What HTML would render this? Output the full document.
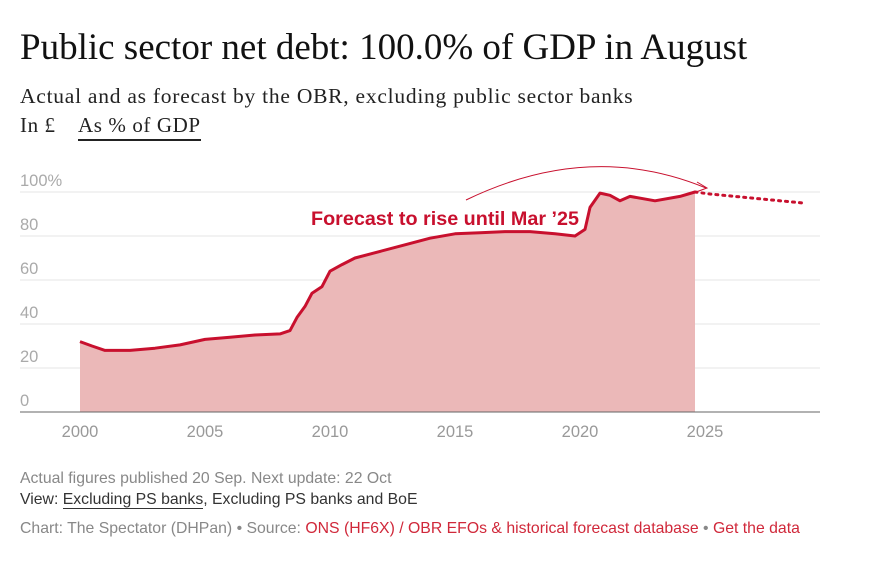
<!DOCTYPE html>
<html><head><meta charset="utf-8"><style>
body{margin:0;background:#fff;width:876px;height:562px;overflow:hidden;font-family:"Liberation Sans",sans-serif}
.t{position:absolute;left:20px;top:26px;font-family:"Liberation Serif",serif;font-size:37px;color:#111;white-space:nowrap}
.s{position:absolute;left:20px;top:84px;font-family:"Liberation Serif",serif;font-size:21.5px;color:#222;white-space:nowrap;letter-spacing:0.75px}
.tab{position:absolute;top:113px;font-family:"Liberation Serif",serif;font-size:21px;color:#222;white-space:nowrap;letter-spacing:0.6px}
.f{position:absolute;left:20px;font-size:15.8px;color:#888;white-space:nowrap}
.r{color:#d0283a}
</style></head><body>
<div class="t">Public sector net debt: 100.0% of GDP in August</div>
<div class="s">Actual and as forecast by the OBR, excluding public sector banks</div>
<div class="tab" style="left:20px">In £</div>
<div class="tab" style="left:78px;border-bottom:2px solid #222;padding-bottom:1px">As % of GDP</div>
<svg width="876" height="562" style="position:absolute;left:0;top:0">
<g stroke="#e4e4e4" stroke-width="1">
<line x1="20" x2="820" y1="192" y2="192"/><line x1="20" x2="820" y1="236" y2="236"/>
<line x1="20" x2="820" y1="280" y2="280"/><line x1="20" x2="820" y1="324" y2="324"/>
<line x1="20" x2="820" y1="368" y2="368"/></g>
<g font-size="16.5" fill="#aaa" font-family="Liberation Sans,sans-serif">
<text x="20" y="186">100%</text><text x="20" y="230">80</text><text x="20" y="274">60</text>
<text x="20" y="318">40</text><text x="20" y="362">20</text><text x="20" y="406">0</text></g>
<g font-size="16.5" fill="#999" text-anchor="middle" font-family="Liberation Sans,sans-serif">
<text x="80" y="437">2000</text><text x="205" y="437">2005</text><text x="330" y="437">2010</text>
<text x="455" y="437">2015</text><text x="580" y="437">2020</text><text x="705" y="437">2025</text></g>
<polygon fill="#ebb8b8" points="80,341.6 92,346 105,350.4 130,350.4 155,348.2 180,344.9 205,339.4 230,337.2 255,335 280,333.9 290,330.6 297,317.4 305,306.4 312,293.2 322,286.6 330,271.2 342,264.6 355,258 380,251.4 405,244.8 430,238.2 455,233.8 480,232.7 505,231.6 530,231.6 555,233.8 575,236 585,229.4 590,207.4 600,193.1 610,195.3 620,200.8 630,196.4 655,200.8 680,196.4 695,192 695,412 80,412"/>
<polyline fill="none" stroke="#c8102e" stroke-width="3" stroke-linejoin="round" points="80,341.6 92,346 105,350.4 130,350.4 155,348.2 180,344.9 205,339.4 230,337.2 255,335 280,333.9 290,330.6 297,317.4 305,306.4 312,293.2 322,286.6 330,271.2 342,264.6 355,258 380,251.4 405,244.8 430,238.2 455,233.8 480,232.7 505,231.6 530,231.6 555,233.8 575,236 585,229.4 590,207.4 600,193.1 610,195.3 620,200.8 630,196.4 655,200.8 680,196.4 695,192"/>
<polyline fill="none" stroke="#c8102e" stroke-width="3" stroke-dasharray="2,5" stroke-linecap="round" points="695,192 710,194 803,203"/>
<line x1="20" x2="820" y1="412" y2="412" stroke="#666" stroke-width="1"/>
<path d="M466,200 Q590,140 706,188" fill="none" stroke="#c8102e" stroke-width="1"/>
<path d="M697,182 L707,188 L696,192" fill="none" stroke="#c8102e" stroke-width="1"/>
<text x="311" y="225" font-size="19.5" font-weight="bold" fill="#c8102e" stroke="#fff" stroke-width="4" paint-order="stroke" font-family="Liberation Sans,sans-serif" textLength="268" lengthAdjust="spacingAndGlyphs">Forecast to rise until Mar ’25</text>
</svg>
<div class="f" style="top:470px">Actual figures published 20 Sep. Next update: 22 Oct</div>
<div class="f" style="top:491px;color:#333">View: <span style="border-bottom:1px solid #333">Excluding PS banks</span>, Excluding PS banks and BoE</div>
<div class="f" style="top:520px">Chart: The Spectator (DHPan) • Source: <span class="r">ONS (HF6X) / OBR EFOs &amp; historical forecast database</span> • <span class="r">Get the data</span></div>
</body></html>
